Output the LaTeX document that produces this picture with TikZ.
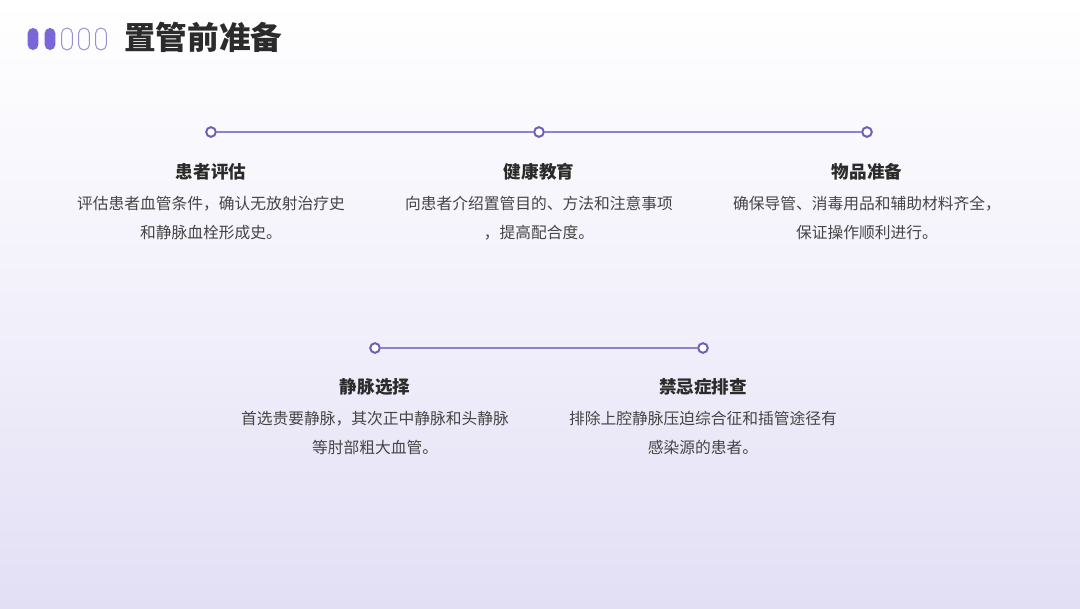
\documentclass[tikz,border=0pt]{standalone}
\usepackage{fontspec}
\setmainfont{Noto Sans CJK SC}
\definecolor{pilldark}{HTML}{7A65D9}
\definecolor{pilllight}{HTML}{9A8FD6}
\definecolor{linecol}{HTML}{8C84C9}
\definecolor{dotcol}{HTML}{6B5FB8}
\definecolor{txtdark}{HTML}{2B2B2B}
\definecolor{txtbody}{HTML}{454545}
\definecolor{bgbottom}{HTML}{E2DFF5}
\begin{document}
\begin{tikzpicture}[
  x=0.025cm, y=-0.025cm,
  every node/.style={align=center, inner sep=0pt},
  dot/.style={circle, draw=dotcol, line width=1.4pt, fill=white, minimum size=0.24cm},
  pill/.style={rectangle, rounded corners=0.135cm, minimum width=0.27cm, minimum height=0.55cm, line width=0.7pt},
  head/.style={font=\fontsize{12.5}{14}\selectfont\bfseries, text=txtdark},
  body/.style={font=\fontsize{11.2}{20.5}\selectfont, text=txtbody}
]
% background
\shade[top color=white, bottom color=bgbottom, middle color=white!55!bgbottom] (0,0) rectangle (1080,608);
\useasboundingbox (0,0) rectangle (1080,608);

% title
\node[pill, fill=pilldark] (p1) at (33,39) {};
\node[pill, fill=pilldark] (p2) at (50,39) {};
\node[pill, draw=pilllight] (p3) at (67,39) {};
\node[pill, draw=pilllight] (p4) at (84,39) {};
\node[pill, draw=pilllight] (p5) at (101,39) {};
\node[anchor=west, font=\fontsize{22.5}{26}\selectfont\bfseries, text=txtdark] (title) at (124,37) {置管前准备};

% first row
\node[dot] (d1) at (211,132) {};
\node[dot] (d2) at (539,132) {};
\node[dot] (d3) at (867,132) {};
\draw[linecol, line width=1.1pt] (d1) -- (d2);
\draw[linecol, line width=1.1pt] (d2) -- (d3);

\node[head] (h1) at (211,172) {患者评估};
\node[body, anchor=north] (b1) at (211,196) {评估患者血管条件，确认无放射治疗史\\和静脉血栓形成史。};
\node[head] (h2) at (539,172) {健康教育};
\node[body, anchor=north] (b2) at (539,196) {向患者介绍置管目的、方法和注意事项\\，提高配合度。};
\node[head] (h3) at (867,172) {物品准备};
\node[body, anchor=north] (b3) at (867,196) {确保导管、消毒用品和辅助材料齐全，\\保证操作顺利进行。};

% second row
\node[dot] (d4) at (375,348) {};
\node[dot] (d5) at (703,348) {};
\draw[linecol, line width=1.1pt] (d4) -- (d5);

\node[head] (h4) at (375,387) {静脉选择};
\node[body, anchor=north] (b4) at (375,411) {首选贵要静脉，其次正中静脉和头静脉\\等肘部粗大血管。};
\node[head] (h5) at (703,387) {禁忌症排查};
\node[body, anchor=north] (b5) at (703,411) {排除上腔静脉压迫综合征和插管途径有\\感染源的患者。};
\end{tikzpicture}
\end{document}
